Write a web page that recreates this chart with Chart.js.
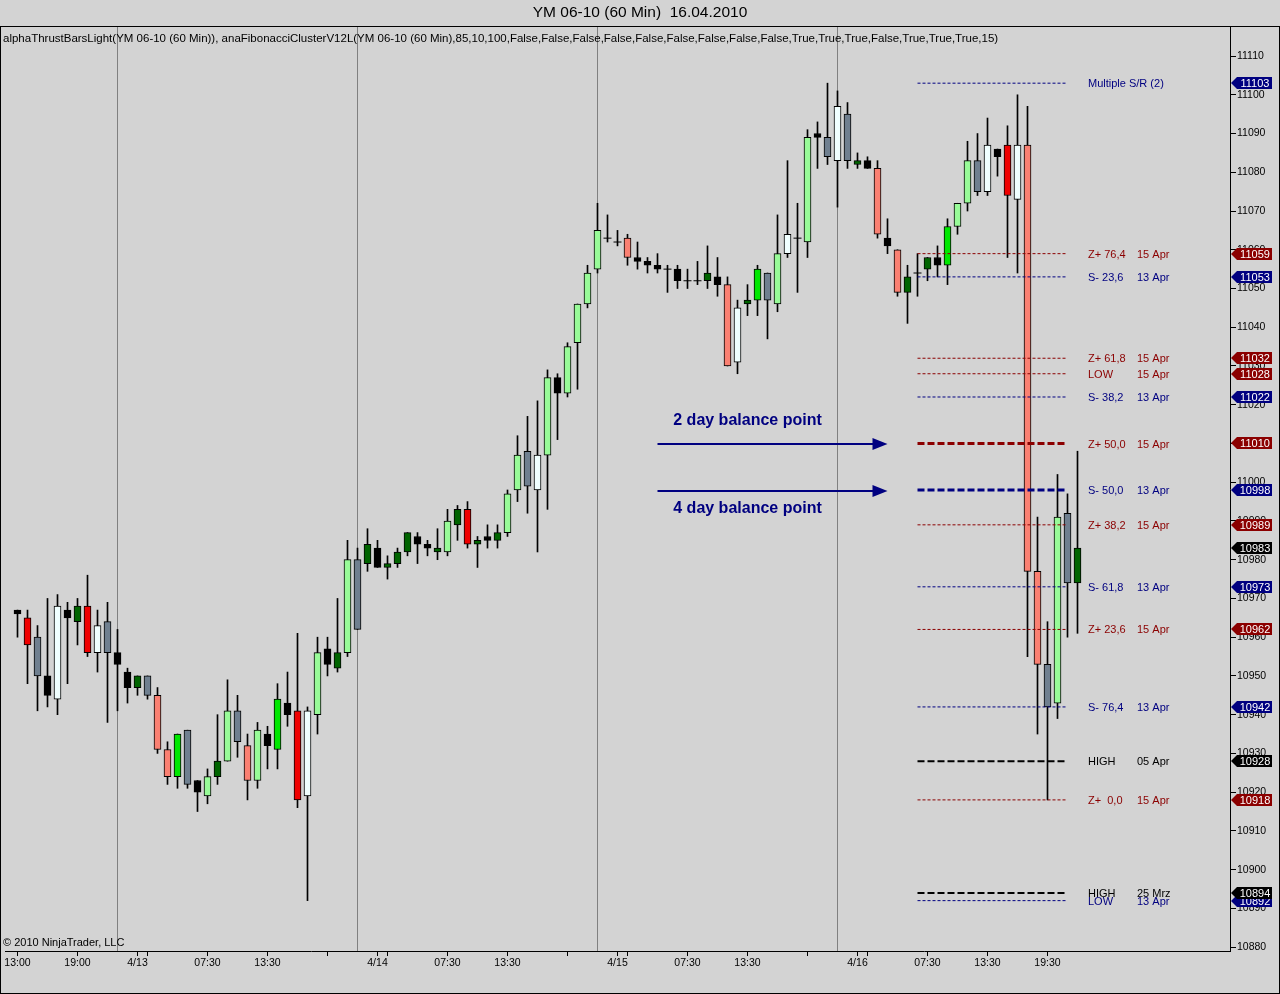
<!DOCTYPE html>
<html>
<head>
<meta charset="utf-8">
<script src="https://cdn.jsdelivr.net/npm/chart.js@4.4.1/dist/chart.umd.min.js"></script>
<style>
html, body { margin: 0; padding: 0; background: #d3d3d3; overflow: hidden; }
#wrap { width: 1280px; height: 994px; }
</style>
</head>
<body>
<div id="wrap"><canvas id="chart"></canvas></div>
<script>
// hourly bars, YM 06-10, 12.04 13:00 .. 16.04 21:00
const opens  = [10967,10965,10960,10950,10944,10967,10964,10968,10956,10964,10956,10951,10947,10950,10945,10931,10924,10936,10923,10919,
                10924,10928,10941,10932,10923,10935,10931,10943,10941,10919,10940,10957,10952,10956,10980,10979,10983,10978,10979,10982,
                10986,10984,10982,10982,10989,10993,10984,10986,10985,10987,10998,11008,10998,11007,11027,11023,11036,11046,11055,11063,
                11062,11063,11058,11057,11056,11055,11055,11052,11052,11052,11053,11051,11031,11046,11047,11054,11046,11059,11063,11062,
                11090,11089,11083,11095,11082,11083,11081,11063,11060,11049,11054,11055,11058,11056,11066,11072,11083,11075,11086,11087,
                11073,11087,10977,10953,10943,10992,10974];
const highs  = [10967,10967,10963,10970,10971,10969,10970,10976,10967,10969,10962,10952,10950,10950,10947,10933,10935,10936,10923,10926,
                10940,10949,10945,10935,10938,10937,10948,10951,10961,10942,10960,10960,10970,10985,10983,10988,10985,10981,10983,10987,
                10987,10985,10988,10993,10994,10995,10986,10989,10989,10998,11012,11017,11021,11029,11028,11036,11046,11056,11072,11069,
                11065,11064,11062,11058,11059,11056,11056,11055,11057,11061,11058,11053,11047,11051,11056,11054,11069,11083,11072,11091,
                11093,11103,11101,11098,11085,11084,11083,11068,11060,11056,11059,11058,11061,11068,11072,11088,11090,11094,11086,11092,
                11100,11097,10991,10964,11002,10997,11008];
const lows   = [10960,10948,10941,10942,10940,10948,10958,10955,10951,10938,10941,10943,10945,10944,10930,10922,10921,10921,10915,10917,
                10922,10928,10929,10918,10921,10926,10926,10937,10916,10892,10935,10950,10951,10955,10962,10977,10978,10975,10978,10981,
                10979,10981,10980,10981,10985,10983,10978,10983,10983,10986,10995,10992,10982,10993,11011,11022,11024,11045,11054,11062,
                11061,11056,11055,11054,11054,11049,11050,11050,11051,11050,11048,11030,11028,11043,11043,11037,11044,11058,11049,11058,
                11081,11082,11071,11081,11081,11081,11063,11059,11048,11041,11048,11052,11053,11051,11064,11070,11074,11074,11079,11058,
                11054,10955,10935,10918,10939,10960,10961];
const closes = [10966,10958,10950,10945,10968,10965,10968,10956,10963,10956,10953,10947,10950,10945,10931,10924,10935,10922,10920,10924,
                10928,10941,10933,10923,10936,10932,10944,10940,10918,10941,10956,10953,10956,10980,10962,10984,10978,10979,10982,10987,
                10984,10983,10983,10990,10993,10984,10985,10985,10987,10997,11007,10999,11007,11027,11023,11035,11046,11054,11065,11063,
                11062,11058,11057,11056,11055,11055,11052,11052,11052,11054,11051,11030,11045,11047,11055,11047,11059,11064,11063,11089,
                11089,11084,11097,11083,11083,11081,11064,11061,11049,11053,11054,11058,11056,11066,11072,11083,11075,11087,11084,11074,
                11087,10977,10953,10942,10991,10974,10983];
// alphaThrustBars state per bar
const thrust = ['blk','red','gry','blk','wht','blk','dkg','red','wht','gry','blk','blk','dkg','gry','sal','sal','grn','gry','blk','ltg',
                'dkg','ltg','gry','sal','ltg','blk','grn','blk','red','wht','ltg','blk','dkg','ltg','gry','dkg','blk','dkg','dkg','dkg',
                'blk','blk','dkg','ltg','dkg','red','dkg','blk','dkg','ltg','ltg','gry','wht','ltg','blk','ltg','ltg','ltg','ltg','doj',
                'doj','sal','blk','blk','blk','doj','blk','doj','doj','dkg','blk','sal','wht','dkg','grn','gry','ltg','wht','doj','ltg',
                'blk','gry','wht','gry','dkg','blk','sal','blk','sal','dkg','doj','dkg','blk','grn','ltg','ltg','gry','wht','blk','red',
                'wht','sal','sal','gry','ltg','gry','dkg'];

const sessionBreaks = [10, 34, 58, 82];
const xTickIdx = [0, 6, 12, 13, 19, 25, 31, 36, 37, 43, 49, 55, 60, 61, 67, 73, 79, 84, 85, 91, 97, 103];
const xTickText = {0: '13:00', 6: '19:00', 12: '4/13', 19: '07:30', 25: '13:30', 36: '4/14', 43: '07:30', 49: '13:30',
                   60: '4/15', 67: '07:30', 73: '13:30', 84: '4/16', 91: '07:30', 97: '13:30', 103: '19:30'};
const yTicks = [];
for (let v = 10880; v <= 11110; v += 10) yTicks.push(v);

// fibonacci cluster levels
const levelValues = [11103, 11059, 11053, 11032, 11028, 11022, 11010, 10998, 10989, 10973, 10962, 10942, 10928, 10918, 10894, 10892];
const levelNames  = ['Multiple S/R (2)', 'Z+ 76,4', 'S- 23,6', 'Z+ 61,8', 'LOW', 'S- 38,2', 'Z+ 50,0', 'S- 50,0', 'Z+ 38,2',
                     'S- 61,8', 'Z+ 23,6', 'S- 76,4', 'HIGH', 'Z+  0,0', 'HIGH', 'LOW'];
const levelDates  = ['', '15 Apr', '13 Apr', '15 Apr', '15 Apr', '13 Apr', '15 Apr', '13 Apr', '15 Apr', '13 Apr', '15 Apr',
                     '13 Apr', '05 Apr', '15 Apr', '25 Mrz', '13 Apr'];
const levelKinds  = ['s', 'z', 's', 'z', 'z', 's', 'z', 's', 'z', 's', 'z', 's', 'h', 'z', 'h', 's'];
const levelHeavy  = [false, false, false, false, false, false, true, true, false, false, false, false, true, false, true, false];
const levelFrom = 90, levelTo = 105;

const arrowLevels = [11010, 10998];
const arrowTexts  = ['2 day balance point', '4 day balance point'];
const arrowFrom = 64, arrowTo = 87;

const palette = {ltg: '#98fb98', grn: '#00e800', dkg: '#006400', wht: '#f0ffff', blk: '#000000',
                 gry: '#708090', sal: '#fa8072', red: '#f00000'};
const kindColor = {z: '#8b0000', s: '#000080', h: '#000000'};
const FONT = '"Liberation Sans", Arial, sans-serif';

let bodies = [], wicks = [], dojis = [];
for (let i = 0; i < closes.length; i++) {
    wicks.push({x: i, y: [lows[i], highs[i]]});
    if (thrust[i] === 'doj') dojis.push({x: i, y: closes[i]});
    else bodies.push({x: i, y: [opens[i], closes[i]]});
}

let levelSets = levelValues.map(function (v, k) {
    let heavy = levelHeavy[k];
    return {
        type: 'line',
        data: [{x: levelFrom, y: v}, {x: levelTo, y: v}],
        borderColor: kindColor[levelKinds[k]],
        borderWidth: heavy ? (levelKinds[k] === 'h' ? 2 : 3) : 1,
        borderDash: heavy ? [7, 3] : [3, 2],
        pointRadius: 0,
        order: 0
    };
});

const decor = {
    id: 'decor',
    beforeDraw(chart) {
        let ctx = chart.ctx;
        ctx.save();
        ctx.fillStyle = '#d3d3d3';
        ctx.fillRect(0, 0, chart.width, chart.height);
        ctx.restore();
    },
    beforeDatasetsDraw(chart) {
        let ctx = chart.ctx, x = chart.scales.x, a = chart.chartArea;
        ctx.save();
        ctx.strokeStyle = '#808080';
        ctx.lineWidth = 1;
        sessionBreaks.forEach(function (i) {
            let px = x.getPixelForValue(i);
            ctx.beginPath();
            ctx.moveTo(px, a.top);
            ctx.lineTo(px, a.bottom);
            ctx.stroke();
        });
        ctx.restore();
    },
    afterDatasetsDraw(chart) {
        let ctx = chart.ctx, x = chart.scales.x, y = chart.scales.y;
        ctx.save();
        // level captions
        ctx.font = '11px ' + FONT;
        ctx.textBaseline = 'middle';
        let c1 = x.getPixelForValue(levelTo) + 20.5, c2 = c1 + 49;
        levelValues.forEach(function (v, k) {
            let py = y.getPixelForValue(v) + 1;
            ctx.fillStyle = kindColor[levelKinds[k]];
            ctx.fillText(levelNames[k], c1, py);
            if (levelDates[k]) ctx.fillText(levelDates[k], c2, py);
        });
        // balance point arrows
        ctx.strokeStyle = '#000080';
        ctx.fillStyle = '#000080';
        ctx.lineWidth = 2;
        let x0 = x.getPixelForValue(arrowFrom), x1 = x.getPixelForValue(arrowTo);
        arrowLevels.forEach(function (v, k) {
            let py = Math.round(y.getPixelForValue(v)) + 1;
            ctx.beginPath();
            ctx.moveTo(x0, py);
            ctx.lineTo(x1 - 12, py);
            ctx.stroke();
            ctx.beginPath();
            ctx.moveTo(x1, py);
            ctx.lineTo(x1 - 15, py - 6);
            ctx.lineTo(x1 - 15, py + 6);
            ctx.closePath();
            ctx.fill();
            ctx.font = 'bold 16px ' + FONT;
            ctx.textAlign = 'center';
            ctx.fillText(arrowTexts[k], x0 + 90, k === 0 ? py - 23 : py + 18);
        });
        // indicator line and copyright
        ctx.textAlign = 'left';
        ctx.fillStyle = '#000';
        ctx.font = '11.5px ' + FONT;
        ctx.fillText('alphaThrustBarsLight(YM 06-10 (60 Min)), anaFibonacciClusterV12L(YM 06-10 (60 Min),85,10,100,False,False,False,False,False,False,False,False,False,True,True,True,False,True,True,True,15)', 3, 39);
        ctx.font = '11px ' + FONT;
        ctx.fillText('\u00a9 2010 NinjaTrader, LLC', 3, 943);
        ctx.restore();
    },
    afterDraw(chart) {
        let ctx = chart.ctx, y = chart.scales.y, a = chart.chartArea;
        ctx.save();
        // price markers on the right axis
        let marks = levelValues.map(function (v, k) { return {v: v, c: kindColor[levelKinds[k]]}; });
        marks.push({v: closes[closes.length - 1], c: '#000000'});
        marks.sort(function (p, q) { return p.v - q.v; });
        ctx.font = '11px ' + FONT;
        ctx.textAlign = 'center';
        ctx.textBaseline = 'middle';
        let left = a.right + 1;
        marks.forEach(function (m) {
            let py = Math.round(y.getPixelForValue(m.v));
            ctx.fillStyle = m.c;
            ctx.beginPath();
            ctx.moveTo(left, py);
            ctx.lineTo(left + 6, py - 6);
            ctx.lineTo(left + 41, py - 6);
            ctx.lineTo(left + 41, py + 6);
            ctx.lineTo(left + 6, py + 6);
            ctx.closePath();
            ctx.fill();
            ctx.fillStyle = '#ffffff';
            ctx.fillText(String(m.v), left + 24, py + 0.5);
        });
        // title and frame
        ctx.fillStyle = '#000';
        ctx.font = '15.5px ' + FONT;
        ctx.fillText('YM 06-10 (60 Min)  16.04.2010', chart.width / 2, 13);
        ctx.strokeStyle = '#000';
        ctx.lineWidth = 1;
        ctx.strokeRect(0.5, 26.5, chart.width - 1, chart.height - 27);
        ctx.restore();
    }
};

const chart = new Chart(document.getElementById('chart'), {
    type: 'bar',
    data: {
        datasets: levelSets.concat([
            {
                type: 'line',
                data: dojis,
                showLine: false,
                pointStyle: 'line',
                pointRadius: 4,
                pointBorderWidth: 1,
                pointBorderColor: '#000',
                order: 1
            },
            {
                data: bodies,
                grouped: false,
                barThickness: 7,
                borderWidth: 1,
                borderSkipped: false,
                borderColor: '#000',
                backgroundColor: function (c) { return c.raw ? palette[thrust[c.raw.x]] : '#000'; },
                order: 1
            },
            {
                data: wicks,
                grouped: false,
                barThickness: 1,
                borderWidth: 0,
                backgroundColor: '#000',
                order: 2
            }
        ])
    },
    plugins: [decor],
    options: {
        responsive: true,
        maintainAspectRatio: false,
        devicePixelRatio: 1,
        animation: false,
        layout: {padding: {left: 1, top: 27, right: 0, bottom: 0}},
        plugins: {legend: {display: false}, tooltip: {enabled: false}},
        scales: {
            x: {
                type: 'linear',
                min: -1.65,
                max: 121.25,
                offset: false,
                bounds: 'data',
                afterFit: function (s) { s.height = 43; s.paddingLeft = 0; s.paddingRight = 0; },
                afterBuildTicks: function (s) { s.ticks = xTickIdx.map(function (v) { return {value: v}; }); },
                ticks: {
                    autoSkip: false, maxRotation: 0, minRotation: 0, padding: 1,
                    color: '#000', font: {family: FONT, size: 10.5},
                    callback: function (v) { return xTickText[v] || ''; }
                },
                grid: {drawOnChartArea: false, drawTicks: true, tickLength: 5, color: '#000', offset: false},
                border: {display: true, color: '#000'}
            },
            y: {
                position: 'right',
                min: 10879,
                max: 11117.5,
                bounds: 'data',
                afterFit: function (s) { s.width = 50; s.paddingTop = 0; s.paddingBottom = 0; },
                afterBuildTicks: function (s) { s.ticks = yTicks.map(function (v) { return {value: v}; }); },
                ticks: {
                    padding: 1, color: '#000', font: {family: FONT, size: 10.5},
                    callback: function (v) { return String(v); }
                },
                grid: {drawOnChartArea: false, drawTicks: true, tickLength: 6, color: '#000'},
                border: {display: true, color: '#000'}
            }
        }
    }
});

// pin the bar grid: first bar at x=17.5, 10 px per hour
let area = chart.chartArea;
let xmin = -(17.5 - area.left) / 10;
chart.options.scales.x.min = xmin;
chart.options.scales.x.max = xmin + (area.right - area.left) / 10;
chart.update();
</script>
</body>
</html>
